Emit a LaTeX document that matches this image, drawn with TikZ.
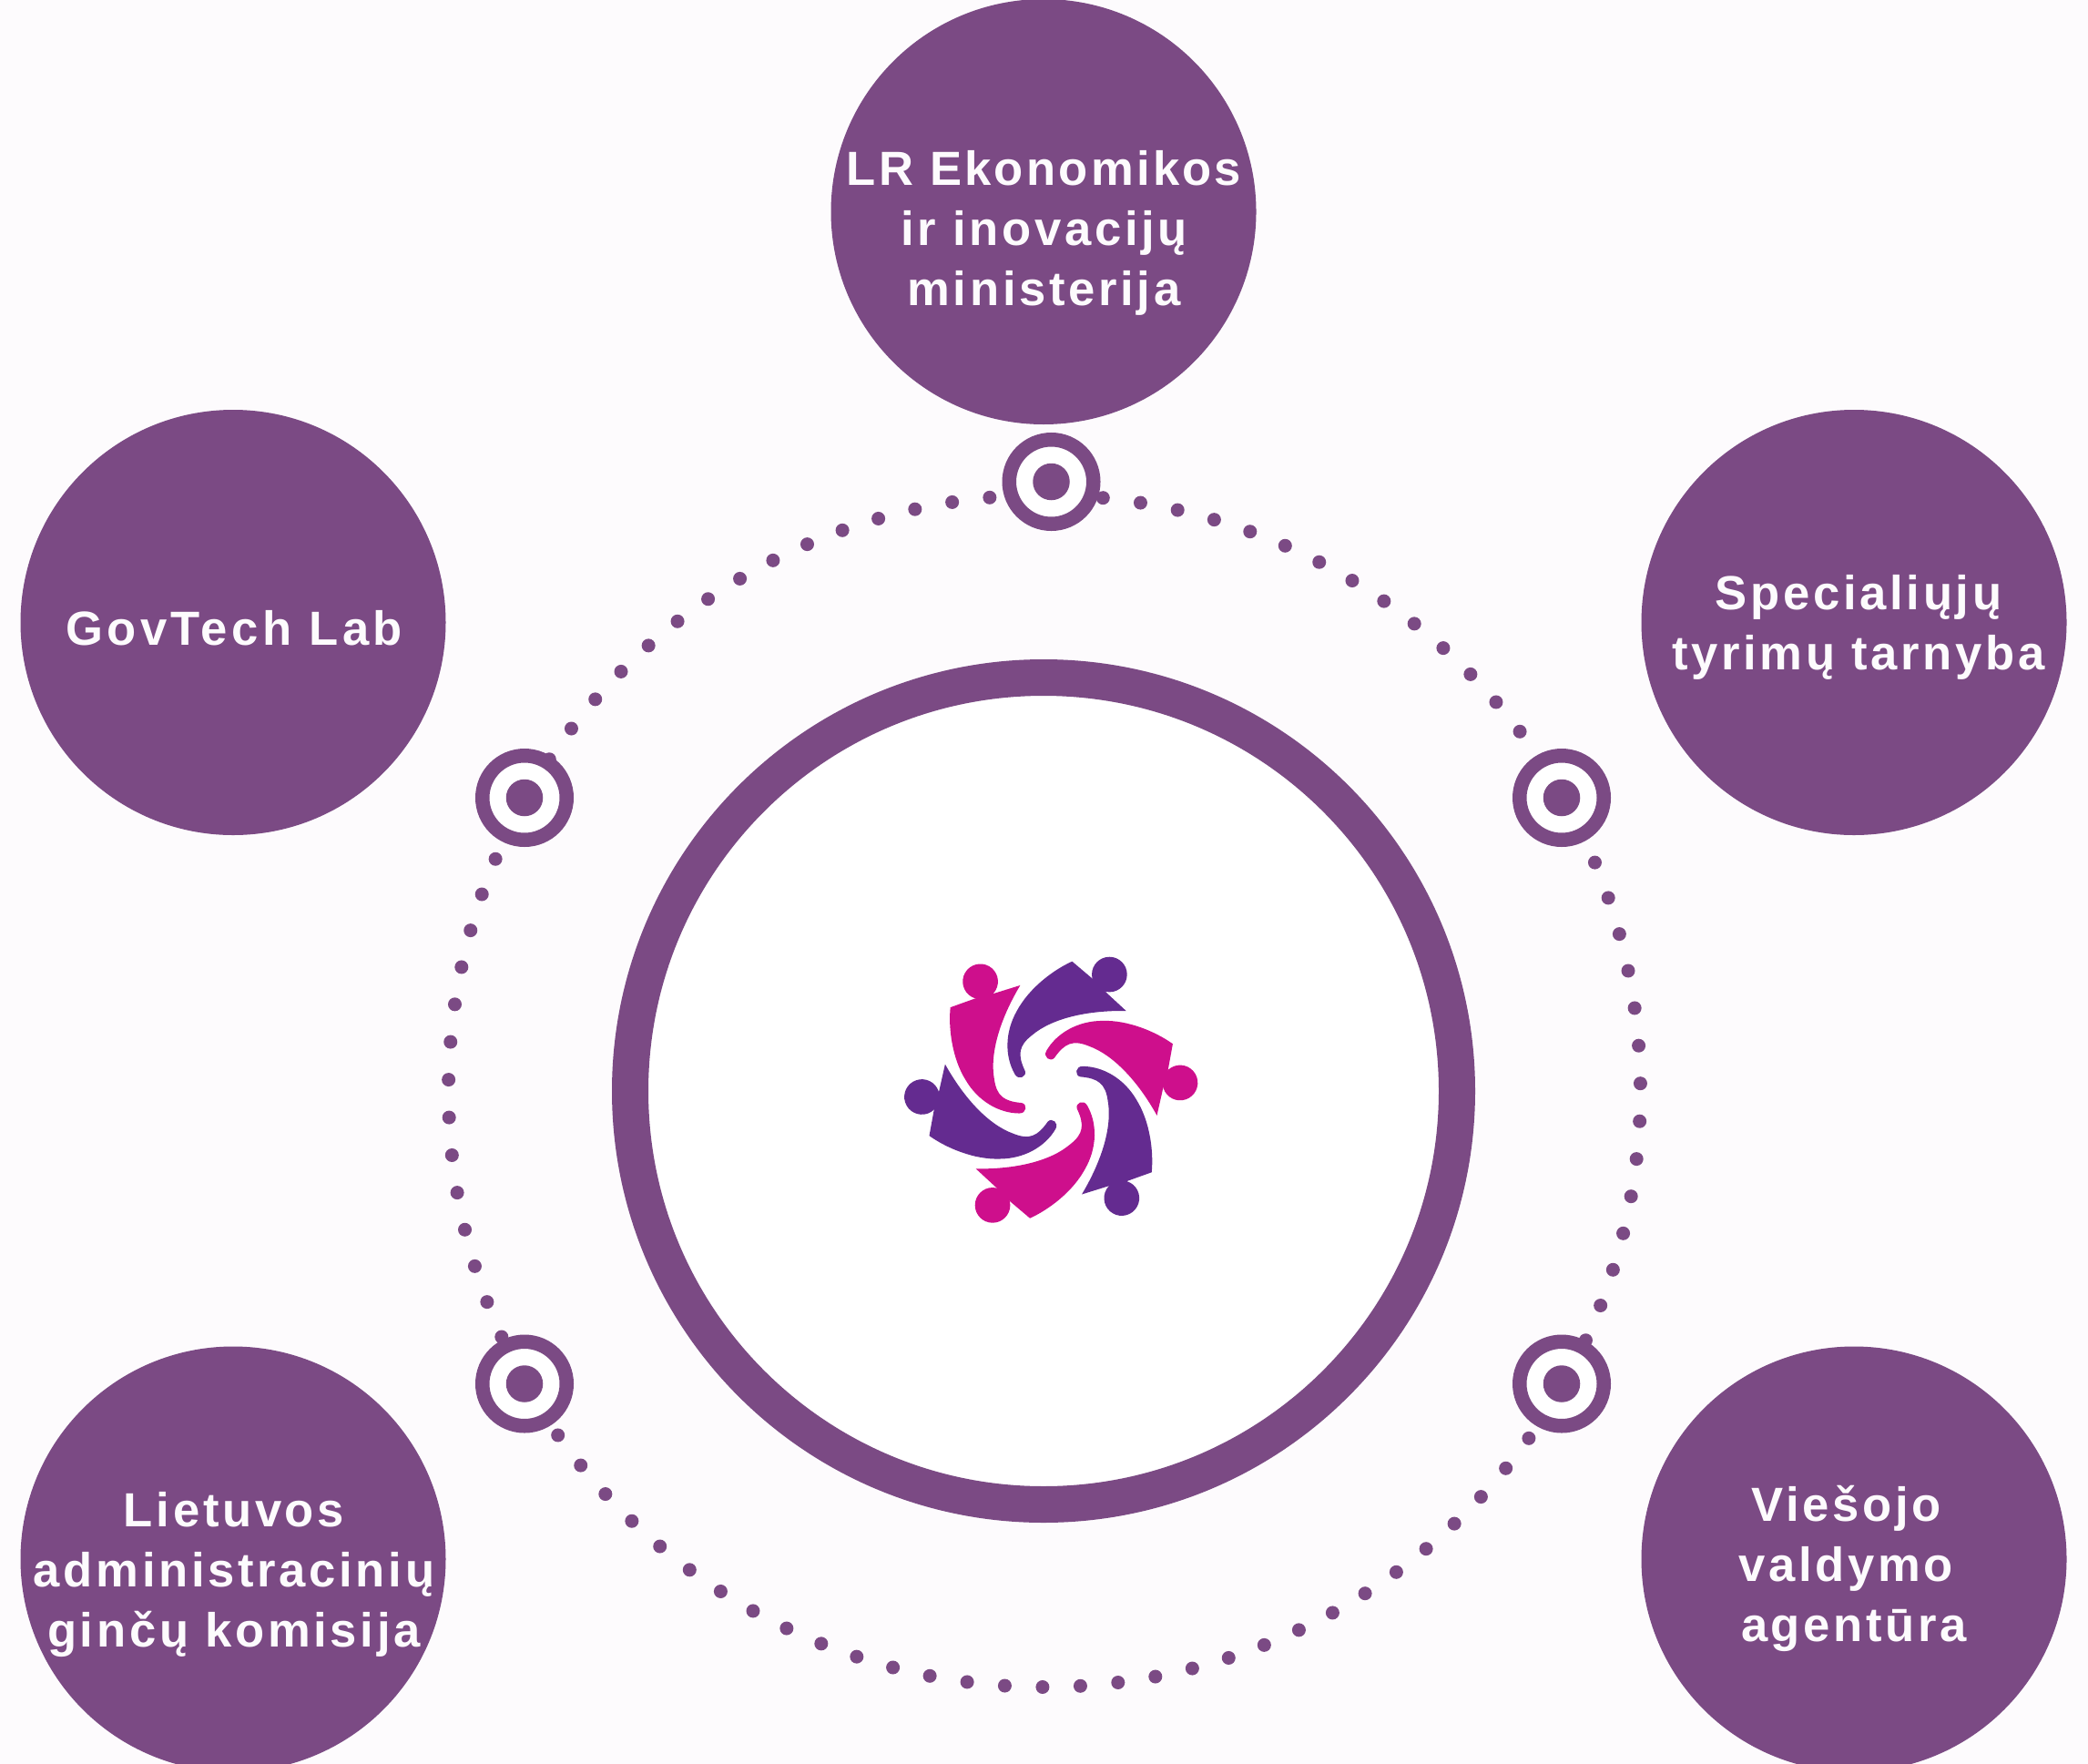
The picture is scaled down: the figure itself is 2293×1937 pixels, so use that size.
\documentclass[tikz,border=0pt]{standalone}
\usepackage{fontspec}
\newfontfamily\labfont[LetterSpace=7]{Liberation Sans}
\newfontfamily\labwide[LetterSpace=8.6]{Liberation Sans}
\newfontfamily\labtight[LetterSpace=6.2]{Liberation Sans}
\definecolor{pagebg}{HTML}{FDFBFD}
\definecolor{plum}{HTML}{7B4A84}
\definecolor{logopink}{HTML}{CE0F8C}
\definecolor{logopurple}{HTML}{642B90}
\tikzset{
  bigdisc/.style={circle,fill=plum,draw=none,minimum size=467pt,inner sep=0pt,outer sep=0pt},
  label/.style={text=pagebg,align=center,inner sep=0pt,outer sep=0pt,font=\labfont\bfseries\fontsize{52.6pt}{66pt}\selectfont},
  widelabel/.style={label,font=\labwide\bfseries\fontsize{52.6pt}{66pt}\selectfont},
  targetring/.style={circle,draw=plum,line width=15.5pt,fill=white,minimum size=92.5pt,inner sep=0pt,outer sep=0pt},
  targetdot/.style={circle,fill=plum,draw=none,minimum size=40.5pt,inner sep=0pt,outer sep=0pt},
  centerring/.style={circle,draw=plum,line width=40pt,fill=white,minimum size=908pt,inner sep=0pt,outer sep=0pt},
  pathdot/.style={fill=plum,draw=none}
}
\begin{document}
\begin{tikzpicture}[x=1pt,y=-1pt]
\useasboundingbox (0,0) rectangle (2293,1937);
\clip (0,0) rectangle (2293,1937);
\fill[pagebg] (0,0) rectangle (2293,1937);
% dotted orbit
\foreach \k in {0,...,98}{
  \fill[pathdot] ({1147+654.5*cos(-88.0+3.63636*\k)},{1198+654.5*sin(-88.0+3.63636*\k)}) circle[radius=7.5];
}
% centre ring
\node[centerring] (hub) at (1146,1198) {};
% logo
\foreach \a/\c in {0/logopurple,60/logopink,120/logopurple,180/logopink,240/logopurple,300/logopink}{
  \begin{scope}[shift={(1154.2pt,-1196.7pt)},rotate=\a,x=.33333pt,y=-.33333pt,shift={(-582.5,-530)}]
    \fill[\c] (652,107) -- (718,163) -- (765,210) -- (830,270)
      .. controls (700,268) and (585,295) .. (520,350)
      .. controls (475,385) and (472,415) .. (497,468)
      .. controls (503,487) and (475,500) .. (463,478)
      .. controls (430,420) and (430,340) .. (470,270)
      .. controls (510,195) and (590,135) .. (652,107) -- cycle;
    \fill[\c] (775,150) circle[radius=58];
  \end{scope}
}
% targets
\foreach \n/\p in {t1/{1154.5,529},t2/{576,876},t3/{1715,876},t4/{576,1519.5},t5/{1715,1519.5}}{
  \node[targetring] (\n) at (\p) {};
  \node[targetdot] (\n d) at (\p) {};
}
% discs
\node[bigdisc] (top) at (1146,232.5) {};
\node[bigdisc] (gov) at (256,683.5) {};
\node[bigdisc] (spec) at (2036,683.5) {};
\node[bigdisc] (lit) at (256,1712) {};
\node[bigdisc] (vie) at (2036,1712) {};
\node[label] (toptext) at (1146.5,256) {{\labtight\bfseries LR Ekonomikos}\\ir inovacijų\\ministerija};
\node[widelabel] (govtext) at (257,690) {GovTech Lab};
\node[label] (spectext) at (2041,689) {Specialiųjų\\tyrimų tarnyba};
\node[label] (littext) at (257,1729) {Lietuvos\\administracinių\\ginčų komisija};
\node[label] (vietext) at (2036,1722) {\mbox{Viešojo\kern16pt}\\\mbox{valdymo\kern18pt}\\agentūra};
\end{tikzpicture}
\end{document}
